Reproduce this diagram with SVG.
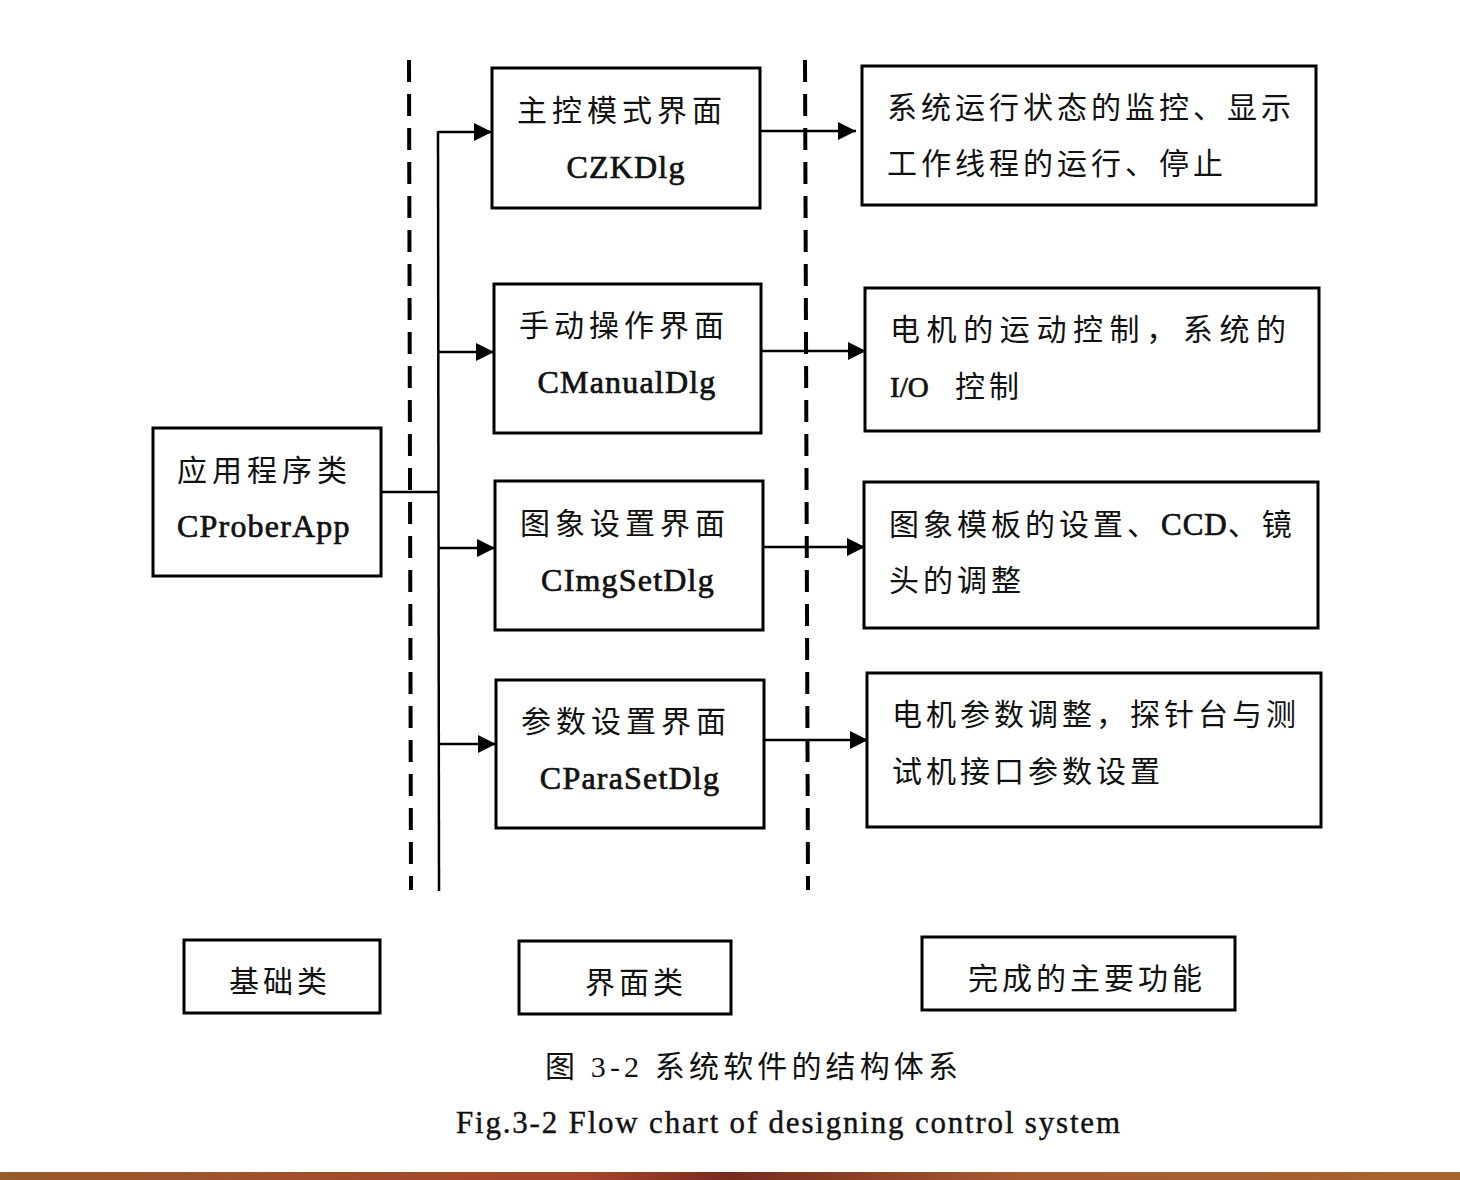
<svg xmlns="http://www.w3.org/2000/svg" width="1460" height="1180" viewBox="0 0 1460 1180">
<style>
.box{fill:#fff;stroke:#000;stroke-width:3}
.cn{font-family:"Liberation Serif","Noto Sans CJK SC",serif;font-size:30px;fill:#111;letter-spacing:4px}
.en{font-family:"Liberation Serif","Noto Sans CJK SC",serif;font-size:32px;fill:#111;stroke:#111;stroke-width:0.7;letter-spacing:1.2px}
.mid{text-anchor:middle}
.conn{stroke:#000;stroke-width:2.5;fill:none}
.dash{stroke:#000;stroke-width:4;stroke-dasharray:22 12;fill:none}
</style>
<defs>
<marker id="arr" markerUnits="userSpaceOnUse" markerWidth="20" markerHeight="18" refX="18" refY="9" orient="auto">
<path d="M0,0 L18,9 L0,18 Z" fill="#000"/>
</marker>
<linearGradient id="bar" x1="0" x2="1" y1="0" y2="0">
<stop offset="0" stop-color="#9a5a2a"/>
<stop offset="0.4" stop-color="#a8442a"/>
<stop offset="0.5" stop-color="#7a2a1e"/>
<stop offset="0.7" stop-color="#a85a30"/>
<stop offset="1" stop-color="#a8642e"/>
</linearGradient>
</defs>
<rect width="1460" height="1180" fill="#fff"/>

<g id="connectors">
<line class="dash" x1="409" y1="60" x2="411" y2="890"/>
<line class="dash" x1="805" y1="60" x2="808" y2="890"/>
<polyline class="conn" points="381,492 438,492"/>
<line class="conn" x1="438" y1="131" x2="439" y2="891"/>
<line class="conn" x1="438" y1="132" x2="492" y2="132" marker-end="url(#arr)"/>
<line class="conn" x1="438" y1="352" x2="494" y2="352" marker-end="url(#arr)"/>
<line class="conn" x1="438" y1="548" x2="495" y2="548" marker-end="url(#arr)"/>
<line class="conn" x1="438" y1="744" x2="496" y2="744" marker-end="url(#arr)"/>
<line class="conn" x1="760" y1="131" x2="856" y2="131" marker-end="url(#arr)"/>
<line class="conn" x1="761" y1="351" x2="866" y2="351" marker-end="url(#arr)"/>
<line class="conn" x1="763" y1="547" x2="865" y2="547" marker-end="url(#arr)"/>
<line class="conn" x1="764" y1="740" x2="868" y2="740" marker-end="url(#arr)"/>
</g>

<g id="app">
<rect class="box" x="153" y="428" width="228" height="148"/>
<text class="cn" x="177" y="481" style="letter-spacing:5px">应用程序类</text>
<text class="en" x="177" y="537">CProberApp</text>
</g>

<g id="czkdlg">
<rect class="box" x="492" y="68" width="268" height="140"/>
<text class="cn" x="517" y="121" style="letter-spacing:5px">主控模式界面</text>
<text class="en mid" x="626" y="178">CZKDlg</text>
</g>
<g id="cmanualdlg">
<rect class="box" x="494" y="284" width="267" height="149"/>
<text class="cn" x="519" y="336" style="letter-spacing:5px">手动操作界面</text>
<text class="en mid" x="627" y="393">CManualDlg</text>
</g>
<g id="cimgsetdlg">
<rect class="box" x="495" y="481" width="268" height="149"/>
<text class="cn" x="520" y="534" style="letter-spacing:5px">图象设置界面</text>
<text class="en mid" x="628" y="591">CImgSetDlg</text>
</g>
<g id="cparasetdlg">
<rect class="box" x="496" y="680" width="268" height="148"/>
<text class="cn" x="521" y="732" style="letter-spacing:5px">参数设置界面</text>
<text class="en mid" x="630" y="789">CParaSetDlg</text>
</g>

<g id="func1">
<rect class="box" x="862" y="66" width="454" height="139"/>
<text class="cn" x="887" y="118">系统运行状态的监控、显示</text>
<text class="cn" x="887" y="174">工作线程的运行、停止</text>
</g>
<g id="func2">
<rect class="box" x="865" y="288" width="454" height="143"/>
<text class="cn" x="890" y="340" style="letter-spacing:6.6px">电机的运动控制，系统的</text>
<text class="cn" x="890" y="397"><tspan class="en" style="font-size:29px;letter-spacing:0">I/O</tspan><tspan x="955">控制</tspan></text>
</g>
<g id="func3">
<rect class="box" x="864" y="482" width="454" height="146"/>
<text class="cn" x="889" y="535">图象模板的设置、<tspan class="en" style="font-size:31px;letter-spacing:1px">CCD</tspan>、镜</text>
<text class="cn" x="889" y="591">头的调整</text>
</g>
<g id="func4">
<rect class="box" x="867" y="673" width="454" height="154"/>
<text class="cn" x="892" y="725">电机参数调整，探针台与测</text>
<text class="cn" x="892" y="782">试机接口参数设置</text>
</g>

<g id="legend-base">
<rect class="box" x="184" y="940" width="196" height="73"/>
<text class="cn mid" x="280" y="992">基础类</text>
</g>
<g id="legend-ui">
<rect class="box" x="519" y="941" width="212" height="73"/>
<text class="cn mid" x="636" y="993">界面类</text>
</g>
<g id="legend-func">
<rect class="box" x="922" y="937" width="313" height="73"/>
<text class="cn mid" x="1087" y="989">完成的主要功能</text>
</g>

<g id="caption">
<text class="cn" x="545" y="1077" textLength="417">图 3-2  系统软件的结构体系</text>
<text x="456" y="1133" textLength="664" style="font-family:'Liberation Serif',serif;font-size:31px;fill:#111;stroke:#111;stroke-width:0.4">Fig.3-2 Flow chart of designing control system</text>
</g>

<rect x="0" y="1172" width="1460" height="8" fill="url(#bar)"/>
</svg>
